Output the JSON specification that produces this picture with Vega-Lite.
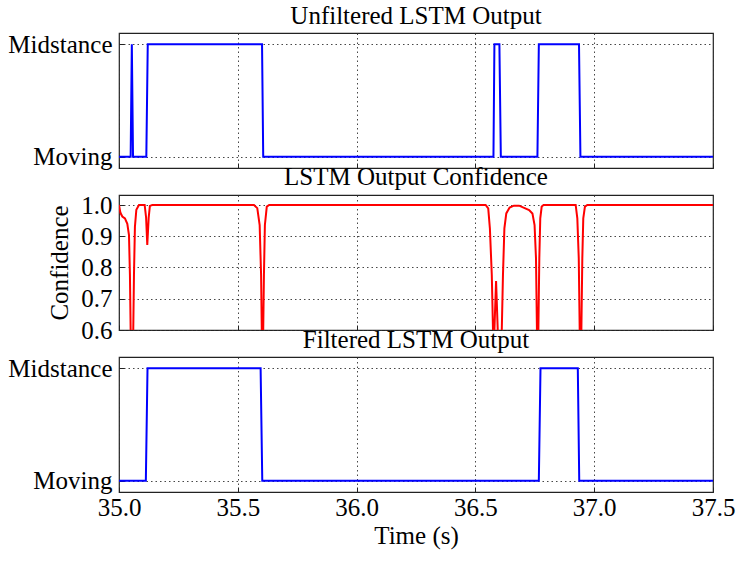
{
  "$schema": "https://vega.github.io/schema/vega-lite/v6.json",
  "background": "white",
  "padding": {"left": 7, "top": 3, "right": 20, "bottom": 5},
  "bounds": "flush",
  "spacing": 27,
  "datasets": {
    "unfiltered": [
      {"t": 35.0, "state": 0}, {"t": 35.049, "state": 0}, {"t": 35.054, "state": 1}, {"t": 35.059, "state": 0},
      {"t": 35.115, "state": 0}, {"t": 35.121, "state": 1}, {"t": 35.602, "state": 1}, {"t": 35.607, "state": 0},
      {"t": 36.576, "state": 0}, {"t": 36.580, "state": 1}, {"t": 36.601, "state": 1}, {"t": 36.607, "state": 0},
      {"t": 36.761, "state": 0}, {"t": 36.767, "state": 1}, {"t": 36.936, "state": 1}, {"t": 36.942, "state": 0},
      {"t": 37.5, "state": 0}
    ],
    "confidence": [
      {"t": 35.0, "conf": 1.0}, {"t": 35.006, "conf": 0.975}, {"t": 35.014, "conf": 0.963}, {"t": 35.025, "conf": 0.957},
      {"t": 35.035, "conf": 0.94}, {"t": 35.042, "conf": 0.904}, {"t": 35.046, "conf": 0.776}, {"t": 35.049, "conf": 0.6},
      {"t": 35.055, "conf": 0.45}, {"t": 35.060, "conf": 0.6}, {"t": 35.063, "conf": 0.776}, {"t": 35.067, "conf": 0.93},
      {"t": 35.073, "conf": 0.985}, {"t": 35.084, "conf": 1.0}, {"t": 35.108, "conf": 1.0}, {"t": 35.114, "conf": 0.96},
      {"t": 35.119, "conf": 0.872}, {"t": 35.125, "conf": 0.96}, {"t": 35.130, "conf": 0.997}, {"t": 35.140, "conf": 1.0},
      {"t": 35.568, "conf": 1.0}, {"t": 35.582, "conf": 0.99}, {"t": 35.592, "conf": 0.936}, {"t": 35.598, "conf": 0.776},
      {"t": 35.601, "conf": 0.6}, {"t": 35.604, "conf": 0.45}, {"t": 35.607, "conf": 0.6}, {"t": 35.610, "conf": 0.776},
      {"t": 35.614, "conf": 0.936}, {"t": 35.622, "conf": 0.995}, {"t": 35.632, "conf": 1.0},
      {"t": 36.543, "conf": 1.0}, {"t": 36.554, "conf": 0.989}, {"t": 36.561, "conf": 0.925}, {"t": 36.569, "conf": 0.776},
      {"t": 36.574, "conf": 0.6}, {"t": 36.577, "conf": 0.52}, {"t": 36.580, "conf": 0.6}, {"t": 36.587, "conf": 0.757},
      {"t": 36.594, "conf": 0.6}, {"t": 36.602, "conf": 0.45}, {"t": 36.611, "conf": 0.6}, {"t": 36.616, "conf": 0.776},
      {"t": 36.622, "conf": 0.925}, {"t": 36.630, "conf": 0.973}, {"t": 36.644, "conf": 0.992}, {"t": 36.662, "conf": 0.998},
      {"t": 36.684, "conf": 0.998}, {"t": 36.705, "conf": 0.991}, {"t": 36.726, "conf": 0.984}, {"t": 36.740, "conf": 0.973},
      {"t": 36.749, "conf": 0.936}, {"t": 36.755, "conf": 0.83}, {"t": 36.759, "conf": 0.6}, {"t": 36.762, "conf": 0.45},
      {"t": 36.765, "conf": 0.6}, {"t": 36.769, "conf": 0.83}, {"t": 36.773, "conf": 0.957}, {"t": 36.779, "conf": 0.995},
      {"t": 36.787, "conf": 1.0}, {"t": 36.922, "conf": 1.0}, {"t": 36.929, "conf": 0.957}, {"t": 36.935, "conf": 0.83},
      {"t": 36.939, "conf": 0.6}, {"t": 36.942, "conf": 0.45}, {"t": 36.946, "conf": 0.6}, {"t": 36.950, "conf": 0.83},
      {"t": 36.954, "conf": 0.957}, {"t": 36.961, "conf": 0.995}, {"t": 36.971, "conf": 1.0}, {"t": 37.5, "conf": 1.0}
    ],
    "filtered": [
      {"t": 35.0, "state": 0}, {"t": 35.113, "state": 0}, {"t": 35.120, "state": 1}, {"t": 35.596, "state": 1},
      {"t": 35.603, "state": 0}, {"t": 36.767, "state": 0}, {"t": 36.774, "state": 1}, {"t": 36.931, "state": 1},
      {"t": 36.937, "state": 0}, {"t": 37.5, "state": 0}
    ]
  },
  "vconcat": [
    {
      "title": "Unfiltered LSTM Output",
      "width": 594,
      "height": 135,
      "data": {"name": "unfiltered"},
      "mark": {"type": "line", "color": "#0000ff", "strokeWidth": 2},
      "encoding": {
        "x": {
          "field": "t", "type": "quantitative",
          "scale": {"domain": [35, 37.5], "nice": false, "zero": false},
          "axis": {"values": [35, 35.5, 36, 36.5, 37, 37.5], "labels": false, "title": null}
        },
        "y": {
          "field": "state", "type": "quantitative",
          "scale": {"domain": [-0.1, 1.1], "nice": false},
          "axis": {"values": [0, 1], "labelExpr": "datum.value == 1 ? 'Midstance' : 'Moving'", "title": null}
        }
      }
    },
    {
      "title": "LSTM Output Confidence",
      "width": 594,
      "height": 135,
      "data": {"name": "confidence"},
      "mark": {"type": "line", "color": "#ff0000", "strokeWidth": 2, "clip": true},
      "encoding": {
        "x": {
          "field": "t", "type": "quantitative",
          "scale": {"domain": [35, 37.5], "nice": false, "zero": false},
          "axis": {"values": [35, 35.5, 36, 36.5, 37, 37.5], "labels": false, "title": null}
        },
        "y": {
          "field": "conf", "type": "quantitative",
          "scale": {"domain": [0.6, 1.032], "nice": false, "zero": false},
          "axis": {"values": [0.6, 0.7, 0.8, 0.9, 1.0], "format": ".1f", "title": "Confidence", "titlePadding": 8}
        }
      }
    },
    {
      "title": "Filtered LSTM Output",
      "width": 594,
      "height": 135,
      "data": {"name": "filtered"},
      "mark": {"type": "line", "color": "#0000ff", "strokeWidth": 2},
      "encoding": {
        "x": {
          "field": "t", "type": "quantitative",
          "scale": {"domain": [35, 37.5], "nice": false, "zero": false},
          "axis": {"values": [35, 35.5, 36, 36.5, 37, 37.5], "format": ".1f", "title": "Time (s)", "titlePadding": 3}
        },
        "y": {
          "field": "state", "type": "quantitative",
          "scale": {"domain": [-0.1, 1.1], "nice": false},
          "axis": {"values": [0, 1], "labelExpr": "datum.value == 1 ? 'Midstance' : 'Moving'", "title": null}
        }
      }
    }
  ],
  "config": {
    "font": "Liberation Serif",
    "view": {"stroke": "#222222", "strokeWidth": 1.2},
    "title": {"fontSize": 25, "fontWeight": "normal", "color": "black", "offset": 3, "anchor": "middle"},
    "axis": {
      "labelFont": "Liberation Serif",
      "titleFont": "Liberation Serif",
      "labelFontSize": 25,
      "titleFontSize": 25,
      "titleFontWeight": "normal",
      "labelColor": "black",
      "titleColor": "black",
      "labelFlush": false,
      "domain": false,
      "ticks": true,
      "tickSize": -5,
      "tickColor": "#222222",
      "tickWidth": 1,
      "grid": true,
      "gridColor": "#333333",
      "gridDash": [1.5, 3],
      "gridWidth": 1,
      "gridOpacity": 0.9
    },
    "axisX": {"labelPadding": 8},
    "axisY": {"labelPadding": 12}
  }
}
